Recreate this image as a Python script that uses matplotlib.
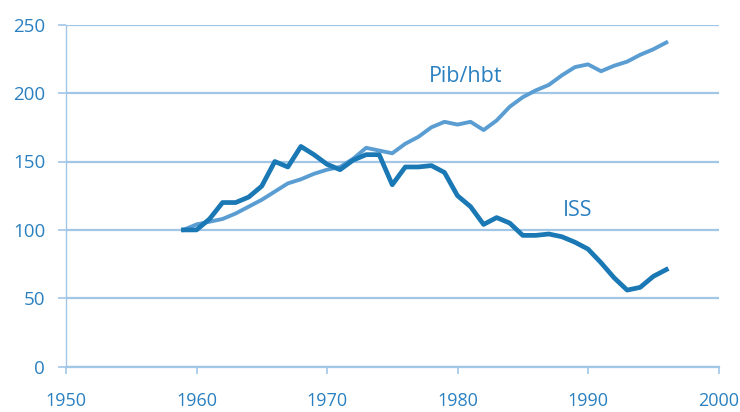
import matplotlib
matplotlib.use("Agg")
import matplotlib.pyplot as plt

years = list(range(1959, 1997))
iss = [100, 100, 108, 120, 120, 124, 132, 150, 146, 161, 155, 148, 144, 151, 155, 155,
       133, 146, 146, 147, 142, 125, 117, 104, 109, 105, 96, 96, 97, 95, 91, 86, 76,
       65, 56, 58, 66, 71]
pib = [100, 104, 106, 108, 112, 117, 122, 128, 134, 137, 141, 144, 146, 152, 160, 158,
       156, 163, 168, 175, 179, 177, 179, 173, 180, 190, 197, 202, 206, 213, 219, 221,
       216, 220, 223, 228, 232, 237]
xticks = [1950, 1960, 1970, 1980, 1990, 2000]
yticks = [0, 50, 100, 150, 200, 250]

text_col = "#2a80c0"
iss_col = "#1a78b4"
pib_col = "#5a9dd2"
grid_col = "#a2c6e6"

plt.rcParams['font.family'] = ['Open Sans', 'DejaVu Sans']

fig = plt.figure(figsize=(7.4, 4.12), dpi=100)
ax = fig.add_axes([66/740, 1-366.7/412, 652.5/740, 342/412])

ax.set_xlim(1950, 2000)
ax.set_ylim(0, 250)
ax.set_xticks(xticks)
ax.set_yticks(yticks)
ax.grid(axis='y', color=grid_col, lw=1.6)
ax.set_axisbelow(True)
for s in ['top', 'right']:
    ax.spines[s].set_visible(False)
ax.spines['left'].set_color(grid_col)
ax.spines['left'].set_linewidth(1.0)
ax.spines['bottom'].set_color(grid_col)
ax.spines['bottom'].set_linewidth(1.6)
ax.tick_params(axis='y', colors=grid_col, labelcolor=text_col, length=6, width=1.2,
               pad=9, labelsize=13.5)
ax.tick_params(axis='x', colors=grid_col, labelcolor=text_col, length=5, width=1.2,
               pad=13, labelsize=13)

ax.plot(years, pib, color=pib_col, lw=2.8, solid_joinstyle='round', zorder=3)
ax.plot(years, iss, color=iss_col, lw=3.4, solid_joinstyle='round', zorder=4)

ax.text(1980.6, 212.5, "Pib/hbt", color=text_col, fontsize=15.5, ha='center', va='center')
ax.text(1989.2, 114.5, "ISS", color=text_col, fontsize=15.5, ha='center', va='center')

fig.savefig("out.png", dpi=100)
